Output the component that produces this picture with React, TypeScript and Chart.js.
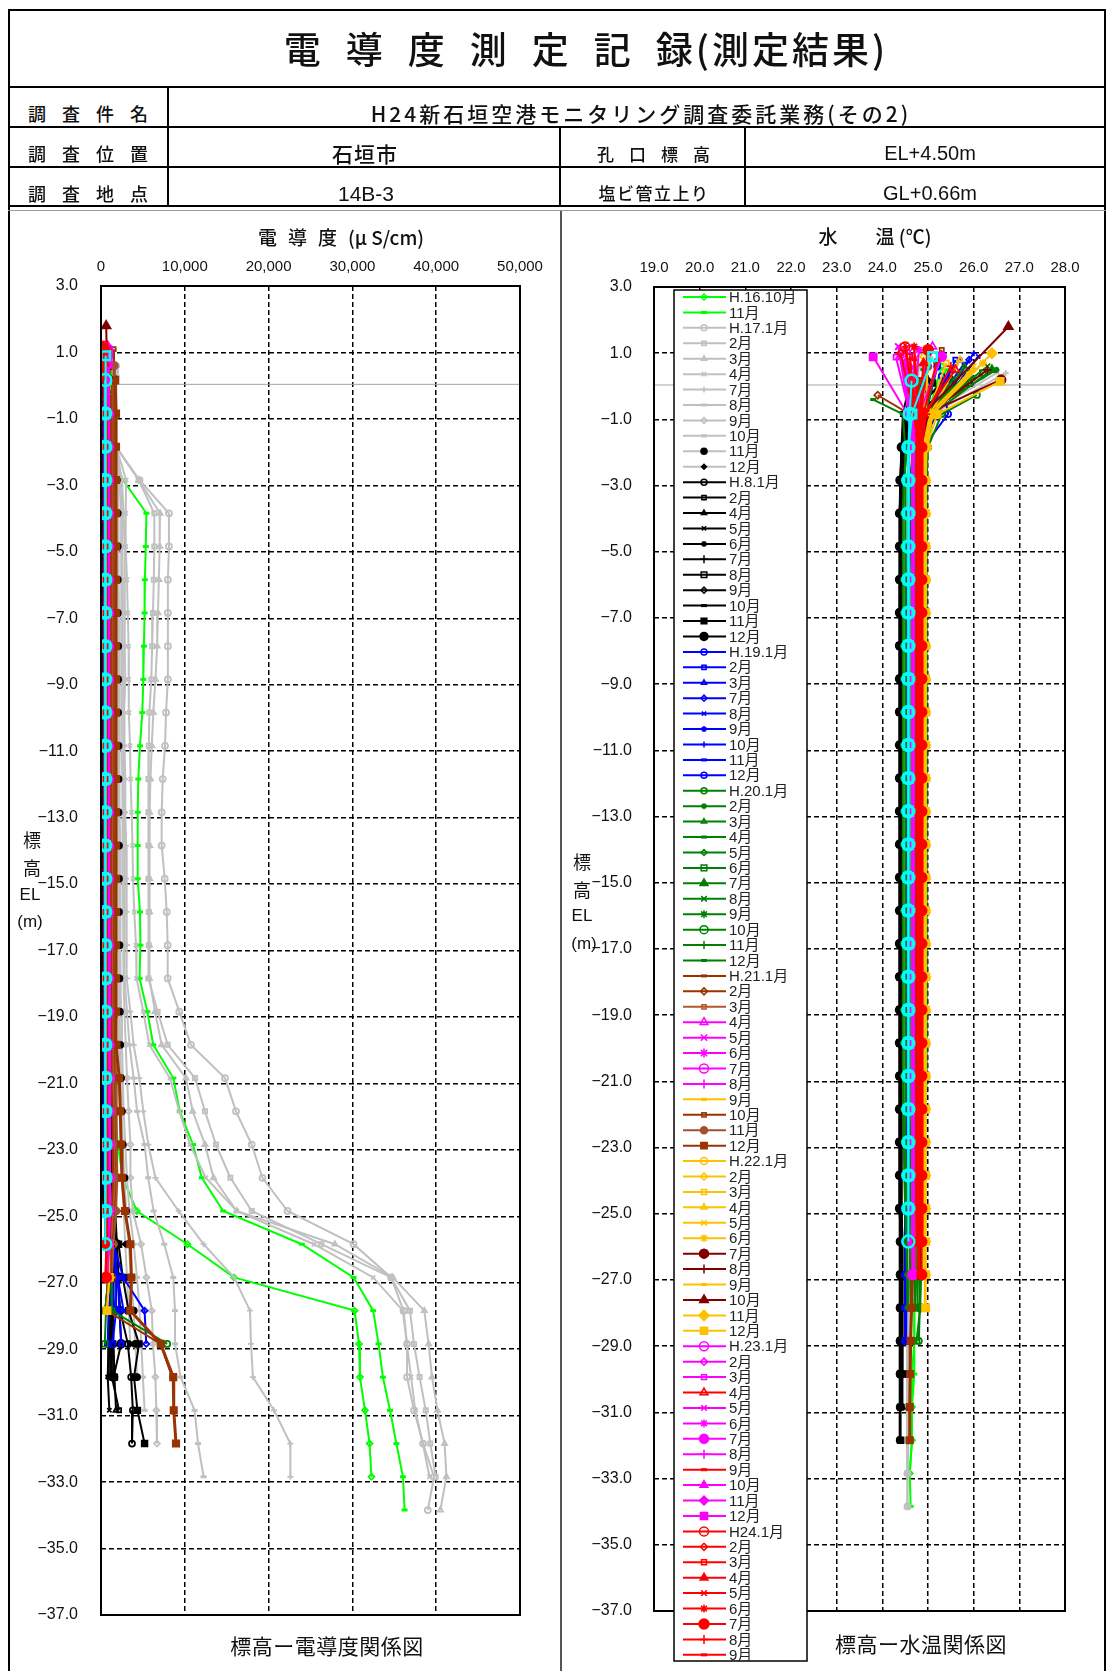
import React, { useEffect, useRef } from "react";
import { Chart, registerables } from "chart.js";
import { drawPoint } from "chart.js/helpers";

Chart.register(...registerables);

// ---------- axes / levels ----------
const LEVELS = [-0.84,-1.84,-2.84,-3.84,-4.84,-5.84,-6.84,-7.84,-8.84,-9.84,-10.84,-11.84,-12.84,-13.84,-14.84,-15.84,-16.84,-17.84,-18.84,-19.84,-20.84,-21.84,-22.84,-23.84,-24.84,-25.84,-26.84,-27.84,-28.84,-29.84,-30.84,-31.84,-32.84,-33.84];
const EL_TICKS = [3,1,-1,-3,-5,-7,-9,-11,-13,-15,-17,-19,-21,-23,-25,-27,-29,-31,-33,-35,-37];
const EC_TICKS = [0,10000,20000,30000,40000,50000];
const T_TICKS = [19,20,21,22,23,24,25,26,27,28];
const WATER_LINE_EL = 0.04;

// ---------- series names ----------
const LABELS = [
  "H.16.10月","11月",
  "H.17.1月","2月","3月","4月","7月","8月","9月","10月","11月","12月",
  "H.8.1月","2月","4月","5月","6月","7月","8月","9月","10月","11月","12月",
  "H.19.1月","2月","3月","7月","8月","9月","10月","11月","12月",
  "H.20.1月","2月","3月","4月","5月","6月","7月","8月","9月","10月","11月","12月",
  "H.21.1月","2月","3月","4月","5月","6月","7月","8月","9月","10月","11月","12月",
  "H.22.1月","2月","3月","4月","5月","6月","7月","8月","9月","10月","11月","12月",
  "H.23.1月","2月","3月","4月","5月","6月","7月","8月","9月","10月","11月","12月",
  "H24.1月","2月","3月","4月","5月","6月","7月","8月","9月",
  "H24.10月","11月",
];

// first (water-level) reading elevation of each series
const HEAD_EL = [
  0.6,0.5,
  0.6,0.5,0.6,0.5,0.4,0.4,0.3,0.3,0.2,0.2,
  0.2,0.1,0.2,0.1,0.0,0.2,0.1,0.0,0.2,0.1,0.0,
  0.3,0.8,0.5,0.8,0.9,0.8,1.0,0.7,0.6,
  -0.26,0.5,0.6,-0.4,0.3,0.4,0.5,0.6,0.4,0.3,0.7,0.5,
  0.16,-0.27,0.2,1.2,1.2,1.1,1.0,0.9,0.5,1.1,0.6,0.16,
  0.8,0.9,0.7,0.8,0.6,0.7,0.2,0.5,0.4,1.8,1.0,0.15,
  1.1,0.9,0.88,0.5,1.2,1.1,0.9,1.0,0.8,0.6,0.7,0.89,
  1.2,1.0,0.9,0.7,1.25,1.2,1.1,0.6,0.8,
  0.17,0.9,
];

// ---------- conductivity (µS/cm): head value, then LEVELS ----------
const EC_H16 = [
  [1200, 1200,1200,1250,1300,1300,1300,1350,1350,1400,1400, 1400,1400,1450,1450,1450,1500,1500,1500,1500,1550, 1600,1700,2000,2600,4270,10320,15870,30260,30790,30900, 31500,32050,32270],
  [1000, 1000,1100,2630,5420,5340,5240,5200,5120,5050,4930, 4650,4450,4380,4380,4380,4650,4700,4600,5530,6240, 8630,9400,10970,12030,14580,23960,30140,32480,33120,33640, 34490,35250,36030,36230],
];
const EC_H17 = [
  [1800, 1800,1800,4600,8110,8110,7980,7980,7980,7980,7760, 7640,7360,7240,7240,7600,7840,7960,7960,9340,10740, 14800,16110,17980,19270,22260,30140,34610,36100,36520,36520, 37350,38430,39740,39000],
  [1800, 1800,1800,4500,6360,6360,6300,6200,6100,6000,5770, 5700,5650,5650,5650,5650,5700,5700,5650,6760,7960, 11220,12410,13720,15440,17990,26300,34610,36870,37350,38020, 38750,39300,39940],
  [1800, 1800,1800,4500,7040,7000,6900,6800,6700,6500,6240, 6060,5900,5800,5800,5800,5800,5770,5770,6440,7240, 10140,10940,12410,13430,16190,27910,34830,38580,39090,39500, 40150,41000,41220,40500],
  [1800, 1800,1800,3000,2950,2950,3100,3200,3290,3300,3340, 3460,3530,3650,3760,3820,3970,4180,4240,5050,5770, 8230,9340,10620,12500,16190,25420,32480,36020,36500,37000, 37500,38400,39200],
  [1800, 1800,1800,2500,2700,2800,2800,2850,2850,2900,2750, 2800,2900,2900,3000,3000,3050,3100,3100,3500,3900, 4580,5050,5650,6490,9260,12240,15870,17780,17900,18130, 20640,22590,22600],
  [1800, 1800,1800,2300,2500,2500,2550,2600,2600,2650,2650, 2700,2700,2750,2750,2800,2800,2850,2850,3100,3400, 3900,4300,5200,5630,6280,7550,8620,8830,8830,9500, 11170,11580,12240],
  [1800, 1800,1800,2200,2400,2400,2400,2450,2450,2500,2500, 2500,2550,2550,2600,2600,2650,2650,2700,2800,2950, 3100,3300,3510,3510,3800,4780,5420,6060,6200,6490, 6600,6680],
  [1700, 1700,1700,2000,2100,2100,2100,2150,2150,2200,2200, 2200,2250,2250,2300,2300,2300,2350,2350,2400,2500, 2600,2700,2900,3100,3400,3900,4300,4600,4800,5000, 5200],
  [1700, 1700,1700,1900,2000,2000,2000,2000,2050,2050,2050, 2100,2100,2100,2150,2150,2150,2200,2200,2250,2300, 2400,2500,2600,2800,3000,3300,3600,3900,4100,4300],
  [1600, 1600,1600,1800,1900,1900,1900,1900,1950,1950,1950, 2000,2000,2000,2000,2050,2050,2050,2100,2100,2150, 2200,2300,2400,2500,2700,2900,3100,3300,3500],
];
const EC_H18 = [
  [150, 150,150,160,160,160,170,170,170,170,180, 180,180,180,190,190,190,200,400,800,1100, 1150,1200,1300,1500,1700,1900,2000,2300,3200,3600, 3800,3700],
  [120, 120,120,130,130,130,140,140,140,150,150, 150,160,160,160,170,170,170,180,180,190, 200,210,230,260,500,1500,1300,1200,1000,1300, 2150],
  [130, 130,130,140,140,140,150,150,150,160,160, 160,170,170,170,180,180,180,190,190,200, 200,210,220,250,400,1700,1500,1400,1500,1600, 1800],
  [110, 110,110,120,120,120,130,130,130,140,140, 140,150,150,150,160,160,160,170,170,180, 180,190,200,220,350,1600,1300,1000,900,800, 1000],
  [100, 100,100,110,110,110,120,120,120,130,130, 130,140,140,140,150,150,150,160,160,170, 170,180,190,210,330,1400,1200,1000,900,900],
  [140, 140,140,150,150,150,160,160,160,170,170, 170,180,180,180,190,190,190,200,200,210, 210,220,230,260,450,1800,1400,1300,1200,1200],
  [160, 160,160,170,170,170,180,180,180,190,190, 190,200,200,200,210,210,210,220,220,230, 230,240,260,300,600,1700,1500,1400,1400,1600],
  [120, 120,120,130,130,130,140,140,140,150,150, 150,160,160,160,170,170,170,180,180,190, 190,200,210,240,400,1500,1300,1200,1100,1100],
  [130, 130,130,140,140,140,150,150,150,160,160, 160,170,170,170,180,180,180,190,190,200, 200,210,220,250,420,1600,1400,1300,1300,1300],
  [170, 170,170,180,180,180,190,190,190,200,200, 200,210,210,210,220,220,220,230,230,240, 240,250,270,310,700,2100,2600,3290,4540,3940, 4350,5200],
  [150, 150,150,160,160,160,170,170,170,180,180, 180,190,190,190,200,200,200,300,600,1000, 1100,1150,1200,1300,1400,1900,2100,2200,2400,1500],
];
const EC_H19 = [
  [400, 400,400,420,420,420,430,430,430,440,440, 440,450,450,450,460,460,460,470,470,480, 490,500,520,560,700,1200,1800,1800,1370],
  [450, 450,450,460,460,460,470,470,470,480,480, 480,490,490,490,500,500,500,510,510,520, 530,540,560,600,800,1500,2000,2200,2440],
  [380, 380,380,390,390,390,400,400,400,410,410, 410,420,420,420,430,430,430,440,440,450, 460,470,490,530,650,1100,1400,1600],
  [500, 500,500,510,510,510,520,520,520,530,530, 530,540,540,540,550,550,550,560,560,570, 580,590,610,650,900,1500,2650,5200,5400],
  [420, 420,420,430,430,430,440,440,440,450,450, 450,460,460,460,470,470,470,480,480,490, 500,510,530,570,750,1300,2000,2700],
  [360, 360,360,370,370,370,380,380,380,390,390, 390,400,400,400,410,410,410,420,420,430, 440,450,470,510,620,1000,1300,1400],
  [340, 340,340,350,350,350,360,360,360,370,370, 370,380,380,380,390,390,390,400,400,410, 420,430,450,490,600,900,1100,1200],
  [320, 320,320,330,330,330,340,340,340,350,350, 350,360,360,360,370,370,370,380,380,390, 400,410,430,470,580,800,900,1000],
  [300, 300,300,310,310,310,320,320,320,330,330, 330,340,340,340,350,350,350,360,360,370, 380,390,410,450,560,700,800,900,800],
];
const EC_H20 = [
  [900, 700,650,620,600,600,600,600,600,600,600, 600,600,600,600,600,600,610,620,640,660, 680,700,750,800,900,1100,1200,1300,7900],
  [600, 550,520,500,500,500,500,500,500,500,500, 500,500,500,500,500,510,520,530,540,560, 580,600,640,700,800,900,1000,500],
  [650, 600,580,560,560,560,560,560,560,560,560, 560,560,560,560,560,570,580,590,600,620, 640,660,700,760,850,950,1000,600],
  [500, 500,480,460,460,460,460,460,460,460,460, 460,460,460,460,460,470,480,490,500,520, 540,560,600,660,750,850,900,500],
  [550, 520,500,480,480,480,480,480,480,480,480, 480,480,480,480,480,490,500,510,520,540, 560,580,620,680,780,880,950,550],
  [600, 560,540,520,520,520,520,520,520,520,520, 520,520,520,520,520,530,540,550,560,580, 600,620,660,720,820,920,980,600,450],
  [620, 580,560,540,540,540,540,540,540,540,540, 540,540,540,540,540,550,560,570,580,600, 620,640,680,740,840,940,1000,620],
  [580, 540,520,500,500,500,500,500,500,500,500, 500,500,500,500,500,510,520,530,540,560, 580,600,640,700,800,900,960,560],
  [560, 530,510,490,490,490,490,490,490,490,490, 490,490,490,490,490,500,510,520,530,550, 570,590,630,690,790,890,940,540],
  [640, 600,580,560,560,560,560,560,560,560,560, 560,560,560,560,560,570,580,590,600,620, 640,660,700,760,860,960,1020,640],
  [520, 500,480,460,460,460,460,460,460,460,460, 460,460,460,460,460,470,480,490,500,520, 540,560,600,660,760,860,900,520],
  [500, 480,460,440,440,440,440,440,440,440,440, 440,440,440,440,440,450,460,470,480,500, 520,540,580,640,740,840,880,500],
];
const EC_H21 = [
  [1300, 1300,1300,1300,1300,1300,1300,1300,1300,1300,1300, 1300,1300,1300,1300,1300,1300,1300,1350,1350,1400, 1450,1500,1550,1600,1400,1000,800,700,7100,8500],
  [1100, 1150,1150,1150,1150,1150,1150,1150,1150,1150,1150, 1150,1150,1150,1150,1150,1150,1150,1200,1200,1250, 1300,1350,1400,1450,1300,1100,1000],
  [1400, 1400,1400,1400,1400,1400,1400,1400,1400,1400,1400, 1400,1400,1400,1400,1400,1400,1400,1450,1450,1500, 1550,1600,1650,1700,1500,1200,1100],
  [800, 850,850,850,850,850,850,850,850,850,850, 850,850,850,850,850,850,850,860,870,880, 890,900,920,950,900,800,700],
  [600, 820,820,820,820,820,820,820,820,820,820, 820,820,820,820,820,820,820,830,840,850, 860,870,890,920,880,780,680],
  [700, 870,870,870,870,870,870,870,870,870,870, 870,870,870,870,870,870,870,880,890,900, 910,920,940,970,920,820,720],
  [750, 900,900,900,900,900,900,900,900,900,900, 900,900,900,900,900,900,900,910,920,930, 940,950,970,1000,950,850,650],
  [800, 880,880,880,880,880,880,880,880,880,880, 880,880,880,880,880,880,880,890,900,910, 920,930,950,980,930,830,730],
  [650, 700,700,700,700,700,700,700,700,700,700, 700,700,700,700,700,700,700,710,720,730, 740,750,770,800,760,700,650],
  [1500, 1550,1550,1550,1550,1550,1550,1550,1550,1550,1550, 1550,1550,1550,1550,1550,1550,1550,1600,1600,1650, 1700,1750,1800,1850,1700,1400,1200],
  [1600, 1650,1650,1650,1650,1650,1650,1650,1650,1650,1650, 1650,1650,1650,1650,1650,1650,1650,1700,1700,1750, 1800,1850,1900,1950,1800,1500,1300],
  [1700, 1790,1790,1790,1790,1790,1790,1790,1790,1790,1790, 1790,1790,1790,1790,1790,1790,1790,1790,1800,1850, 2180,2300,2400,2500,2860,3500,3630,3500,7130,8620, 8680,8950],
];
const EC_H22 = [
  [700, 700,680,660,650,650,650,650,650,650,650, 650,650,650,650,650,660,670,680,690,700, 720,740,780,820,880,900,950],
  [720, 720,700,680,670,670,670,670,670,670,670, 670,670,670,670,670,680,690,700,710,720, 740,760,800,840,900,920,960],
  [740, 740,720,700,690,690,690,690,690,690,690, 690,690,690,690,690,700,710,720,730,740, 760,780,820,860,920,940,980,720],
  [680, 680,660,640,630,630,630,630,630,630,630, 630,630,630,630,630,640,650,660,670,680, 700,720,760,800,860,880,920],
  [660, 660,640,620,610,610,610,610,610,610,610, 610,610,610,610,610,620,630,640,650,660, 680,700,740,780,840,860,900],
  [700, 700,680,660,650,650,650,650,650,650,650, 650,650,650,650,650,660,670,680,690,700, 720,740,780,820,880,900,940],
  [800, 800,790,780,780,780,780,780,780,780,780, 780,780,780,780,780,790,800,810,820,830, 850,870,900,940,1000,1050,1100],
  [780, 780,770,760,760,760,760,760,760,760,760, 760,760,760,760,760,770,780,790,800,810, 830,850,880,920,980,1030,1080],
  [690, 690,670,650,640,640,640,640,640,640,640, 640,640,640,640,640,650,660,670,680,690, 710,730,770,810,870,890,930],
  [620, 820,810,800,800,800,800,800,800,800,800, 800,800,800,800,800,810,820,830,840,850, 870,890,920,960,1020,1070,1120],
  [730, 730,710,690,680,680,680,680,680,680,680, 680,680,680,680,680,690,700,710,720,730, 750,770,810,850,910,930,970],
  [760, 760,740,720,710,710,710,710,710,710,710, 710,710,710,710,710,720,730,740,750,760, 780,800,840,880,940,960,1000,720],
];
const EC_H23 = [
  [850, 900,900,900,900,900,900,900,900,900,900, 900,900,900,900,900,910,920,930,940,950, 960,970,990,1020,980,900,640],
  [880, 930,930,930,930,930,930,930,930,930,930, 930,930,930,930,930,940,950,960,970,980, 990,1000,1020,1050,1010,930,700],
  [870, 920,920,920,920,920,920,920,920,920,920, 920,920,920,920,920,930,940,950,960,970, 980,990,1010,1040,1000,920,680],
  [600, 620,620,620,620,620,620,620,620,620,620, 620,620,620,620,620,630,640,650,660,670, 680,690,710,740,700,650,560],
  [500, 950,950,950,950,950,950,950,950,950,950, 950,950,950,950,950,960,970,980,990,1000, 1010,1020,1040,1070,1030,950,720],
  [700, 960,960,960,960,960,960,960,960,960,960, 960,960,960,960,960,970,980,990,1000,1010, 1020,1030,1050,1080,1040,960,740],
  [820, 890,890,890,890,890,890,890,890,890,890, 890,890,890,890,890,900,910,920,930,940, 950,960,980,1010,970,890,640],
  [860, 910,910,910,910,910,910,910,910,910,910, 910,910,910,910,910,920,930,940,950,960, 970,980,1000,1030,990,910,660],
  [560, 580,580,580,580,580,580,580,580,580,580, 580,580,580,580,580,590,600,610,620,630, 640,650,670,700,660,610,520],
  [900, 940,940,940,940,940,940,940,940,940,940, 940,940,940,940,940,950,960,970,980,990, 1000,1010,1030,1060,1020,940,680],
  [880, 920,920,920,920,920,920,920,920,920,920, 920,920,920,920,920,930,940,950,960,970, 980,990,1010,1040,1000,920,660],
  [840, 900,900,900,900,900,900,900,900,900,900, 900,900,900,900,900,910,920,930,940,950, 960,970,990,1020,980,900,650],
];
const EC_H24 = [
  [300, 480,480,480,480,480,480,480,480,480,480, 480,480,480,480,480,490,500,510,520,530, 540,550,570,600,580,520],
  [200, 520,520,520,520,520,520,520,520,520,520, 520,520,520,520,520,530,540,550,560,570, 580,590,610,640,620,560],
  [350, 560,560,560,560,560,560,560,560,560,560, 560,560,560,560,560,570,580,590,600,610, 620,630,650,680,660,600],
  [450, 600,600,600,600,600,600,600,600,600,600, 600,600,600,600,600,610,620,630,640,650, 660,670,690,720,700,640],
  [100, 440,440,440,440,440,440,440,440,440,440, 440,440,440,440,440,450,460,470,480,490, 500,510,530,560,540,480],
  [250, 460,460,460,460,460,460,460,460,460,460, 460,460,460,460,460,470,480,490,500,510, 520,530,550,580,560,500],
  [400, 640,640,640,640,640,640,640,640,640,640, 640,640,640,640,640,650,660,670,680,690, 700,710,730,760,740,680,600],
  [500, 680,680,680,680,680,680,680,680,680,680, 680,680,680,680,680,690,700,710,720,730, 740,750,770,800,780,720],
  [420, 420,420,420,420,420,420,420,420,420,420, 420,420,420,420,420,430,440,450,460,470, 480,490,510,540,520,460],
];
const EC_CYAN = [
  [520, 500,500,500,500,500,500,500,500,500,500, 500,500,500,500,500,500,500,510,510,510, 520,520,530,540,530,520],
  [560, 540,540,540,540,540,540,540,540,540,540, 540,540,540,540,540,540,540,550,550,550, 560,560,570,580,570],
];

// ---------- water temperature (°C): head value, then LEVELS ----------
const T_H16 = [
  [25.3, 25.0,24.95,24.9,24.9,24.9,24.9,24.9,24.9,24.9,24.9, 24.9,24.9,24.9,24.9,24.9,24.9,24.85,24.85,24.85,24.85, 24.85,24.8,24.8,24.8,24.8,24.75,24.75,24.7,24.7,24.65, 24.65,24.65,24.6],
  [25.4, 25.0,24.95,24.95,24.9,24.9,24.9,24.9,24.9,24.9,24.9, 24.9,24.9,24.9,24.9,24.9,24.9,24.9,24.85,24.85,24.85, 24.85,24.8,24.8,24.8,24.8,24.75,24.75,24.7,24.7,24.7, 24.65,24.65,24.6,24.62],
];
const T_H17 = [
  [24.9, 24.8,24.75,24.75,24.72,24.72,24.72,24.7,24.7,24.7,24.7, 24.7,24.7,24.7,24.7,24.7,24.7,24.68,24.68,24.68,24.68, 24.66,24.66,24.65,24.65,24.64,24.62,24.6,24.6,24.6,24.58, 24.56,24.55,24.55,24.55],
  [24.6, 24.7,24.7,24.7,24.7,24.7,24.7,24.7,24.7,24.7,24.7, 24.7,24.7,24.7,24.7,24.7,24.68,24.68,24.68,24.66,24.66, 24.65,24.65,24.64,24.62,24.6,24.6,24.6,24.58,24.56,24.55, 24.55,24.55,24.55],
  [24.8, 24.75,24.72,24.72,24.72,24.72,24.7,24.7,24.7,24.7,24.7, 24.7,24.7,24.7,24.7,24.7,24.7,24.7,24.68,24.68,24.66, 24.66,24.65,24.65,24.64,24.62,24.6,24.6,24.6,24.58,24.56, 24.55,24.55,24.55,24.55],
  [25.2, 24.9,24.8,24.75,24.75,24.72,24.72,24.72,24.7,24.7,24.7, 24.7,24.7,24.7,24.7,24.7,24.7,24.68,24.68,24.68,24.66, 24.66,24.65,24.65,24.64,24.62,24.6,24.6,24.6,24.58,24.56, 24.55,24.55,24.55],
  [26.7, 25.1,24.85,24.8,24.78,24.76,24.75,24.75,24.74,24.74,24.73, 24.73,24.72,24.72,24.72,24.71,24.7,24.7,24.7,24.69,24.68, 24.67,24.66,24.65,24.64,24.63,24.62,24.6,24.6,24.58,24.57, 24.56,24.55,24.55],
  [26.5, 25.0,24.8,24.78,24.76,24.75,24.75,24.74,24.74,24.73,24.73, 24.72,24.72,24.72,24.71,24.7,24.7,24.7,24.69,24.68,24.67, 24.66,24.65,24.64,24.63,24.62,24.6,24.6,24.58,24.57,24.56, 24.55,24.55,24.55],
  [26.2, 24.95,24.8,24.76,24.75,24.74,24.74,24.73,24.73,24.72,24.72, 24.72,24.71,24.7,24.7,24.7,24.69,24.68,24.67,24.66,24.65, 24.64,24.63,24.62,24.6,24.6,24.58,24.57,24.56,24.55,24.55, 24.55,24.55],
  [25.8, 24.9,24.78,24.75,24.74,24.73,24.73,24.72,24.72,24.72,24.71, 24.7,24.7,24.7,24.69,24.68,24.67,24.66,24.65,24.64,24.63, 24.62,24.6,24.6,24.58,24.57,24.56,24.55,24.55,24.55,24.55, 24.55],
  [25.5, 24.85,24.76,24.74,24.73,24.72,24.72,24.72,24.71,24.7,24.7, 24.7,24.69,24.68,24.67,24.66,24.65,24.64,24.63,24.62,24.6, 24.6,24.58,24.57,24.56,24.55,24.55,24.55,24.55,24.55,24.55],
  [25.0, 24.8,24.75,24.73,24.72,24.72,24.71,24.7,24.7,24.7,24.69, 24.68,24.67,24.66,24.65,24.64,24.63,24.62,24.6,24.6,24.58, 24.57,24.56,24.55,24.55,24.55,24.55,24.55,24.55,24.55],
];
const T_H18 = [
  [24.7, 24.5,24.42,24.4,24.4,24.4,24.38,24.38,24.38,24.38,24.38, 24.38,24.38,24.38,24.38,24.38,24.38,24.38,24.38,24.38,24.38, 24.38,24.38,24.38,24.38,24.38,24.38,24.38,24.38,24.38,24.38, 24.38,24.38],
  [24.6, 24.45,24.42,24.4,24.4,24.4,24.4,24.4,24.4,24.4,24.4, 24.4,24.4,24.4,24.4,24.4,24.4,24.4,24.4,24.4,24.4, 24.4,24.4,24.4,24.4,24.4,24.42,24.42,24.42,24.42,24.42, 24.42],
  [25.0, 24.55,24.45,24.42,24.42,24.42,24.42,24.42,24.42,24.42,24.42, 24.42,24.42,24.42,24.42,24.42,24.42,24.42,24.42,24.42,24.42, 24.42,24.42,24.42,24.42,24.42,24.44,24.44,24.44,24.44,24.44, 24.44],
  [25.3, 24.6,24.45,24.4,24.4,24.4,24.4,24.4,24.4,24.4,24.4, 24.4,24.4,24.4,24.4,24.4,24.4,24.4,24.4,24.4,24.4, 24.4,24.4,24.4,24.4,24.4,24.42,24.42,24.42,24.42,24.42, 24.42],
  [25.6, 24.65,24.45,24.4,24.38,24.38,24.38,24.38,24.38,24.38,24.38, 24.38,24.38,24.38,24.38,24.38,24.38,24.38,24.38,24.38,24.38, 24.38,24.38,24.38,24.38,24.38,24.4,24.4,24.4,24.4,24.4],
  [25.8, 24.7,24.48,24.42,24.4,24.4,24.4,24.4,24.4,24.4,24.4, 24.4,24.4,24.4,24.4,24.4,24.4,24.4,24.4,24.4,24.4, 24.4,24.4,24.4,24.4,24.4,24.42,24.42,24.42,24.42,24.42],
  [25.9, 24.7,24.5,24.44,24.42,24.42,24.42,24.42,24.42,24.42,24.42, 24.42,24.42,24.42,24.42,24.42,24.42,24.42,24.42,24.42,24.42, 24.42,24.42,24.42,24.42,24.42,24.44,24.44,24.44,24.44,24.44],
  [25.7, 24.65,24.47,24.41,24.4,24.4,24.4,24.4,24.4,24.4,24.4, 24.4,24.4,24.4,24.4,24.4,24.4,24.4,24.4,24.4,24.4, 24.4,24.4,24.4,24.4,24.4,24.41,24.41,24.41,24.41,24.41],
  [25.4, 24.6,24.45,24.4,24.39,24.39,24.39,24.39,24.39,24.39,24.39, 24.39,24.39,24.39,24.39,24.39,24.39,24.39,24.39,24.39,24.39, 24.39,24.39,24.39,24.39,24.39,24.4,24.4,24.4,24.4,24.4],
  [25.1, 24.55,24.44,24.4,24.38,24.38,24.38,24.38,24.38,24.38,24.38, 24.38,24.38,24.38,24.38,24.38,24.38,24.38,24.38,24.38,24.38, 24.38,24.38,24.38,24.38,24.38,24.4,24.4,24.4,24.4,24.4, 24.4,24.4],
  [24.8, 24.5,24.42,24.39,24.38,24.38,24.38,24.38,24.38,24.38,24.38, 24.38,24.38,24.38,24.38,24.38,24.38,24.38,24.38,24.38,24.38, 24.38,24.38,24.38,24.38,24.38,24.4,24.4,24.4,24.4,24.4],
];
const T_H19 = [
  [25.3, 25.44,24.9,24.7,24.6,24.6,24.58,24.56,24.55,24.55,24.55, 24.55,24.55,24.55,24.55,24.55,24.55,24.55,24.55,24.55,24.55, 24.55,24.52,24.52,24.52,24.5,24.5,24.5,24.5,24.5],
  [25.6, 25.1,24.75,24.62,24.6,24.58,24.57,24.56,24.55,24.55,24.55, 24.55,24.55,24.55,24.55,24.55,24.55,24.55,24.55,24.55,24.55, 24.55,24.53,24.53,24.52,24.52,24.5,24.5,24.5,24.5],
  [25.5, 25.0,24.72,24.6,24.58,24.57,24.56,24.55,24.55,24.55,24.55, 24.55,24.55,24.55,24.55,24.55,24.55,24.55,24.55,24.55,24.55, 24.55,24.53,24.52,24.52,24.5,24.5,24.5,24.5],
  [25.9, 25.2,24.8,24.65,24.6,24.6,24.58,24.57,24.57,24.57,24.57, 24.57,24.57,24.57,24.57,24.57,24.57,24.57,24.57,24.57,24.57, 24.57,24.55,24.55,24.54,24.53,24.52,24.52,24.52,24.52],
  [26.1, 25.15,24.78,24.63,24.6,24.58,24.57,24.56,24.56,24.56,24.56, 24.56,24.56,24.56,24.56,24.56,24.56,24.56,24.56,24.56,24.56, 24.56,24.54,24.54,24.53,24.52,24.51,24.51,24.51],
  [25.7, 25.05,24.74,24.61,24.58,24.57,24.56,24.55,24.55,24.55,24.55, 24.55,24.55,24.55,24.55,24.55,24.55,24.55,24.55,24.55,24.55, 24.55,24.53,24.53,24.52,24.51,24.5,24.5,24.5],
  [26.0, 25.1,24.76,24.62,24.59,24.58,24.57,24.56,24.56,24.56,24.56, 24.56,24.56,24.56,24.56,24.56,24.56,24.56,24.56,24.56,24.56, 24.56,24.54,24.54,24.53,24.52,24.51,24.51,24.51],
  [25.8, 25.0,24.73,24.6,24.58,24.57,24.56,24.55,24.55,24.55,24.55, 24.55,24.55,24.55,24.55,24.55,24.55,24.55,24.55,24.55,24.55, 24.55,24.53,24.53,24.52,24.51,24.5,24.5,24.5],
  [25.2, 24.95,24.7,24.6,24.57,24.56,24.55,24.55,24.55,24.55,24.55, 24.55,24.55,24.55,24.55,24.55,24.55,24.55,24.55,24.55,24.55, 24.55,24.53,24.53,24.52,24.51,24.5,24.5,24.5,24.5],
];
const T_H20 = [
  [26.07, 25.3,25.0,24.96,24.95,24.95,24.95,24.95,24.95,24.95,24.95, 24.95,24.95,24.95,24.95,24.95,24.95,24.95,24.95,24.95,24.95, 24.95,24.93,24.92,24.9,24.88,24.86,24.84,24.82,24.8],
  [26.5, 24.9,24.55,24.47,24.45,24.45,24.45,24.45,24.45,24.45,24.45, 24.45,24.45,24.45,24.45,24.45,24.45,24.45,24.45,24.45,24.45, 24.45,24.46,24.47,24.48,24.5,24.52,24.54,24.55],
  [25.8, 25.1,24.99,24.97,24.97,24.97,24.97,24.97,24.97,24.97,24.97, 24.97,24.97,24.97,24.97,24.97,24.97,24.97,24.97,24.97,24.97, 24.97,24.95,24.93,24.9,24.88,24.86,24.84,24.82],
  [23.8, 24.45,24.5,24.5,24.5,24.5,24.5,24.5,24.5,24.5,24.5, 24.5,24.5,24.5,24.5,24.5,24.5,24.5,24.5,24.5,24.5, 24.5,24.5,24.51,24.52,24.53,24.54,24.55,24.56],
  [25.9, 24.95,24.66,24.62,24.6,24.6,24.6,24.6,24.6,24.6,24.6, 24.6,24.6,24.6,24.6,24.6,24.6,24.6,24.6,24.6,24.6, 24.6,24.6,24.61,24.62,24.63,24.64,24.65,24.66],
  [26.2, 25.0,24.76,24.72,24.7,24.7,24.7,24.7,24.7,24.7,24.7, 24.7,24.7,24.7,24.7,24.7,24.7,24.7,24.7,24.7,24.7, 24.7,24.72,24.74,24.76,24.78,24.8,24.82,24.83,24.75],
  [26.4, 25.1,24.94,24.9,24.9,24.9,24.9,24.9,24.9,24.9,24.9, 24.9,24.9,24.9,24.9,24.9,24.9,24.9,24.9,24.9,24.9, 24.9,24.89,24.88,24.87,24.86,24.85,24.84,24.83],
  [26.3, 24.95,24.6,24.56,24.55,24.55,24.55,24.55,24.55,24.55,24.55, 24.55,24.55,24.55,24.55,24.55,24.55,24.55,24.55,24.55,24.55, 24.55,24.56,24.57,24.58,24.59,24.6,24.61,24.62],
  [25.9, 24.9,24.7,24.66,24.65,24.65,24.65,24.65,24.65,24.65,24.65, 24.65,24.65,24.65,24.65,24.65,24.65,24.65,24.65,24.65,24.65, 24.65,24.66,24.67,24.68,24.69,24.7,24.71,24.72],
  [25.6, 24.95,24.79,24.76,24.75,24.75,24.75,24.75,24.75,24.75,24.75, 24.75,24.75,24.75,24.75,24.75,24.75,24.75,24.75,24.75,24.75, 24.75,24.76,24.77,24.78,24.79,24.8,24.81,24.82],
  [25.2, 24.95,24.88,24.86,24.85,24.85,24.85,24.85,24.85,24.85,24.85, 24.85,24.85,24.85,24.85,24.85,24.85,24.85,24.85,24.85,24.85, 24.85,24.85,24.85,24.84,24.84,24.83,24.83,24.82],
  [24.9, 24.8,24.72,24.7,24.7,24.7,24.7,24.7,24.7,24.7,24.7, 24.7,24.7,24.7,24.7,24.7,24.7,24.7,24.7,24.7,24.7, 24.7,24.71,24.72,24.73,24.74,24.75,24.76,24.77],
];
const T_H21 = [
  [24.9, 24.8,24.76,24.75,24.75,24.75,24.75,24.75,24.75,24.75,24.75, 24.75,24.75,24.75,24.75,24.75,24.75,24.75,24.74,24.73,24.72, 24.71,24.7,24.69,24.68,24.67,24.66,24.65,24.63,24.62,24.6],
  [23.9, 24.6,24.78,24.8,24.8,24.8,24.8,24.8,24.8,24.8,24.8, 24.8,24.8,24.8,24.8,24.8,24.8,24.8,24.8,24.8,24.8, 24.8,24.79,24.78,24.77,24.76,24.75,24.74],
  [24.6, 24.75,24.78,24.78,24.78,24.78,24.78,24.78,24.78,24.78,24.78, 24.78,24.78,24.78,24.78,24.78,24.78,24.78,24.78,24.78,24.78, 24.78,24.77,24.76,24.75,24.74,24.73,24.72],
  [25.1, 24.75,24.67,24.66,24.65,24.65,24.65,24.65,24.65,24.65,24.65, 24.65,24.65,24.65,24.65,24.65,24.65,24.65,24.65,24.65,24.65, 24.65,24.65,24.65,24.65,24.65,24.65,24.65],
  [24.35, 24.6,24.65,24.66,24.66,24.66,24.66,24.66,24.66,24.66,24.66, 24.66,24.66,24.66,24.66,24.66,24.66,24.66,24.66,24.66,24.66, 24.66,24.66,24.66,24.66,24.66,24.66,24.66],
  [24.5, 24.65,24.67,24.67,24.67,24.67,24.67,24.67,24.67,24.67,24.67, 24.67,24.67,24.67,24.67,24.67,24.67,24.67,24.67,24.67,24.67, 24.67,24.67,24.67,24.67,24.67,24.67,24.67],
  [24.7, 24.68,24.66,24.66,24.66,24.66,24.66,24.66,24.66,24.66,24.66, 24.66,24.66,24.66,24.66,24.66,24.66,24.66,24.66,24.66,24.66, 24.66,24.66,24.66,24.66,24.66,24.66,24.66],
  [25.3, 24.8,24.68,24.66,24.66,24.66,24.66,24.66,24.66,24.66,24.66, 24.66,24.66,24.66,24.66,24.66,24.66,24.66,24.66,24.66,24.66, 24.66,24.66,24.66,24.66,24.66,24.66,24.66],
  [26.0, 25.0,24.92,24.9,24.9,24.9,24.9,24.9,24.9,24.9,24.9, 24.9,24.9,24.9,24.9,24.9,24.9,24.9,24.9,24.9,24.9, 24.9,24.9,24.9,24.9,24.9,24.9,24.9],
  [25.3, 24.9,24.82,24.8,24.8,24.8,24.8,24.8,24.8,24.8,24.8, 24.8,24.8,24.8,24.8,24.8,24.8,24.8,24.8,24.8,24.8, 24.8,24.79,24.78,24.77,24.76,24.75,24.74],
  [25.0, 24.85,24.79,24.78,24.78,24.78,24.78,24.78,24.78,24.78,24.78, 24.78,24.78,24.78,24.78,24.78,24.78,24.78,24.78,24.78,24.78, 24.78,24.77,24.76,24.75,24.74,24.73,24.72],
  [24.8, 24.78,24.76,24.75,24.75,24.75,24.75,24.75,24.75,24.75,24.75, 24.75,24.75,24.75,24.75,24.75,24.75,24.75,24.75,24.75,24.75, 24.74,24.73,24.72,24.71,24.7,24.68,24.66,24.64,24.62,24.61, 24.6,24.6],
];
const T_H22 = [
  [25.0, 24.95,24.92,24.9,24.9,24.9,24.9,24.9,24.9,24.9,24.9, 24.9,24.9,24.9,24.9,24.9,24.9,24.9,24.9,24.9,24.9, 24.9,24.9,24.9,24.9,24.9,24.9,24.9],
  [24.9, 24.92,24.92,24.92,24.92,24.92,24.92,24.92,24.92,24.92,24.92, 24.92,24.92,24.92,24.92,24.92,24.92,24.92,24.92,24.92,24.92, 24.92,24.92,24.92,24.92,24.92,24.92,24.92],
  [25.4, 25.0,24.94,24.93,24.93,24.93,24.93,24.93,24.93,24.93,24.93, 24.93,24.93,24.93,24.93,24.93,24.93,24.93,24.93,24.93,24.93, 24.93,24.93,24.93,24.93,24.93,24.93,24.93,24.93],
  [25.7, 25.05,24.95,24.94,24.94,24.94,24.94,24.94,24.94,24.94,24.94, 24.94,24.94,24.94,24.94,24.94,24.94,24.94,24.94,24.94,24.94, 24.94,24.94,24.94,24.94,24.94,24.94,24.94],
  [26.0, 25.1,24.96,24.95,24.95,24.95,24.95,24.95,24.95,24.95,24.95, 24.95,24.95,24.95,24.95,24.95,24.95,24.95,24.95,24.95,24.95, 24.95,24.95,24.95,24.95,24.95,24.95,24.95],
  [26.2, 25.1,24.95,24.93,24.93,24.93,24.93,24.93,24.93,24.93,24.93, 24.93,24.93,24.93,24.93,24.93,24.93,24.93,24.93,24.93,24.93, 24.93,24.93,24.93,24.93,24.93,24.93,24.93],
  [26.6, 24.95,24.84,24.82,24.82,24.82,24.82,24.82,24.82,24.82,24.82, 24.82,24.82,24.82,24.82,24.82,24.82,24.82,24.82,24.82,24.82, 24.82,24.82,24.82,24.82,24.82,24.82,24.82],
  [26.3, 25.0,24.85,24.83,24.83,24.83,24.83,24.83,24.83,24.83,24.83, 24.83,24.83,24.83,24.83,24.83,24.83,24.83,24.83,24.83,24.83, 24.83,24.83,24.83,24.83,24.83,24.83,24.83],
  [25.9, 25.05,24.93,24.91,24.91,24.91,24.91,24.91,24.91,24.91,24.91, 24.91,24.91,24.91,24.91,24.91,24.91,24.91,24.91,24.91,24.91, 24.91,24.91,24.91,24.91,24.91,24.91,24.91],
  [26.76, 24.9,24.84,24.82,24.82,24.82,24.82,24.82,24.82,24.82,24.82, 24.82,24.82,24.82,24.82,24.82,24.82,24.82,24.82,24.82,24.82, 24.82,24.82,24.82,24.82,24.82,24.82,24.82],
  [26.4, 25.1,24.96,24.94,24.94,24.94,24.94,24.94,24.94,24.94,24.94, 24.94,24.94,24.94,24.94,24.94,24.94,24.94,24.94,24.94,24.94, 24.94,24.94,24.94,24.94,24.94,24.94,24.94],
  [26.58, 25.2,24.97,24.95,24.95,24.95,24.95,24.95,24.95,24.95,24.95, 24.95,24.95,24.95,24.95,24.95,24.95,24.95,24.95,24.95,24.95, 24.95,24.95,24.95,24.95,24.95,24.95,24.95,24.95],
];
const T_H23 = [
  [24.6, 24.66,24.67,24.67,24.67,24.67,24.67,24.67,24.67,24.67,24.67, 24.67,24.67,24.67,24.67,24.67,24.67,24.67,24.67,24.67,24.67, 24.67,24.67,24.67,24.67,24.67,24.67,24.67],
  [24.4, 24.62,24.66,24.66,24.66,24.66,24.66,24.66,24.66,24.66,24.66, 24.66,24.66,24.66,24.66,24.66,24.66,24.66,24.66,24.66,24.66, 24.66,24.66,24.66,24.66,24.66,24.66,24.66],
  [24.3, 24.6,24.66,24.67,24.67,24.67,24.67,24.67,24.67,24.67,24.67, 24.67,24.67,24.67,24.67,24.67,24.67,24.67,24.67,24.67,24.67, 24.67,24.67,24.67,24.67,24.67,24.67,24.67],
  [25.6, 24.9,24.82,24.8,24.8,24.8,24.8,24.8,24.8,24.8,24.8, 24.8,24.8,24.8,24.8,24.8,24.8,24.8,24.8,24.8,24.8, 24.8,24.8,24.8,24.8,24.8,24.8,24.8],
  [24.35, 24.6,24.67,24.68,24.68,24.68,24.68,24.68,24.68,24.68,24.68, 24.68,24.68,24.68,24.68,24.68,24.68,24.68,24.68,24.68,24.68, 24.68,24.68,24.68,24.68,24.68,24.68,24.68],
  [24.8, 24.7,24.68,24.68,24.68,24.68,24.68,24.68,24.68,24.68,24.68, 24.68,24.68,24.68,24.68,24.68,24.68,24.68,24.68,24.68,24.68, 24.68,24.68,24.68,24.68,24.68,24.68,24.68],
  [25.3, 24.8,24.7,24.69,24.69,24.69,24.69,24.69,24.69,24.69,24.69, 24.69,24.69,24.69,24.69,24.69,24.69,24.69,24.69,24.69,24.69, 24.69,24.69,24.69,24.69,24.69,24.69,24.69],
  [25.0, 24.75,24.69,24.68,24.68,24.68,24.68,24.68,24.68,24.68,24.68, 24.68,24.68,24.68,24.68,24.68,24.68,24.68,24.68,24.68,24.68, 24.68,24.68,24.68,24.68,24.68,24.68,24.68],
  [24.7, 24.78,24.8,24.8,24.8,24.8,24.8,24.8,24.8,24.8,24.8, 24.8,24.8,24.8,24.8,24.8,24.8,24.8,24.8,24.8,24.8, 24.8,24.8,24.8,24.8,24.8,24.8,24.8],
  [24.6, 24.66,24.68,24.68,24.68,24.68,24.68,24.68,24.68,24.68,24.68, 24.68,24.68,24.68,24.68,24.68,24.68,24.68,24.68,24.68,24.68, 24.68,24.68,24.68,24.68,24.68,24.68,24.68],
  [24.5, 24.64,24.67,24.67,24.67,24.67,24.67,24.67,24.67,24.67,24.67, 24.67,24.67,24.67,24.67,24.67,24.67,24.67,24.67,24.67,24.67, 24.67,24.67,24.67,24.67,24.67,24.67,24.67],
  [23.8, 24.55,24.66,24.67,24.67,24.67,24.67,24.67,24.67,24.67,24.67, 24.67,24.67,24.67,24.67,24.67,24.67,24.67,24.67,24.67,24.67, 24.67,24.67,24.67,24.67,24.67,24.67,24.67],
];
const T_H24 = [
  [24.5, 24.72,24.76,24.76,24.76,24.76,24.76,24.76,24.76,24.76,24.76, 24.76,24.76,24.76,24.76,24.76,24.76,24.76,24.76,24.76,24.76, 24.76,24.76,24.76,24.76,24.76,24.76],
  [24.4, 24.7,24.78,24.78,24.78,24.78,24.78,24.78,24.78,24.78,24.78, 24.78,24.78,24.78,24.78,24.78,24.78,24.78,24.78,24.78,24.78, 24.78,24.78,24.78,24.78,24.78,24.78],
  [24.6, 24.75,24.8,24.8,24.8,24.8,24.8,24.8,24.8,24.8,24.8, 24.8,24.8,24.8,24.8,24.8,24.8,24.8,24.8,24.8,24.8, 24.8,24.8,24.8,24.8,24.8,24.8],
  [24.9, 24.82,24.82,24.82,24.82,24.82,24.82,24.82,24.82,24.82,24.82, 24.82,24.82,24.82,24.82,24.82,24.82,24.82,24.82,24.82,24.82, 24.82,24.82,24.82,24.82,24.82,24.82],
  [24.5, 24.75,24.84,24.84,24.84,24.84,24.84,24.84,24.84,24.84,24.84, 24.84,24.84,24.84,24.84,24.84,24.84,24.84,24.84,24.84,24.84, 24.84,24.84,24.84,24.84,24.84,24.84],
  [24.7, 24.8,24.85,24.85,24.85,24.85,24.85,24.85,24.85,24.85,24.85, 24.85,24.85,24.85,24.85,24.85,24.85,24.85,24.85,24.85,24.85, 24.85,24.85,24.85,24.85,24.85,24.85],
  [25.0, 24.85,24.86,24.86,24.86,24.86,24.86,24.86,24.86,24.86,24.86, 24.86,24.86,24.86,24.86,24.86,24.86,24.86,24.86,24.86,24.86, 24.86,24.86,24.86,24.86,24.86,24.86,24.86],
  [25.5, 24.95,24.87,24.87,24.87,24.87,24.87,24.87,24.87,24.87,24.87, 24.87,24.87,24.87,24.87,24.87,24.87,24.87,24.87,24.87,24.87, 24.87,24.87,24.87,24.87,24.87,24.87],
  [25.2, 24.9,24.88,24.88,24.88,24.88,24.88,24.88,24.88,24.88,24.88, 24.88,24.88,24.88,24.88,24.88,24.88,24.88,24.88,24.88,24.88, 24.88,24.88,24.88,24.88,24.88,24.88],
];
const T_CYAN = [
  [24.64, 24.6,24.57,24.57,24.57,24.57,24.57,24.57,24.57,24.57,24.57, 24.57,24.57,24.57,24.57,24.57,24.57,24.57,24.57,24.57,24.57, 24.57,24.57,24.57,24.57,24.57,24.57],
  [25.1, 24.65,24.58,24.57,24.57,24.57,24.57,24.57,24.57,24.57,24.57, 24.57,24.57,24.57,24.57,24.57,24.57,24.57,24.57,24.57,24.57, 24.57,24.57,24.57,24.57,24.57],
];

// ---------- styles ----------
const LIME = "#00FF00", GRAY = "#C0C0C0", BLK = "#000000", BLUE = "#0000FF", DGRN = "#008000";
const BRN = "#993300", BRN2 = "#B4572A", BRN3 = "#A0522D", MAG = "#FF00FF", YEL = "#FFC000";
const DRED = "#800000", RED = "#FF0000", CYAN = "#00FFFF";

const LINE_COLORS = [
  LIME, LIME,
  GRAY, GRAY, GRAY, GRAY, GRAY, GRAY, GRAY, GRAY, GRAY, GRAY,
  BLK, BLK, BLK, BLK, BLK, BLK, BLK, BLK, BLK, BLK, BLK,
  BLUE, BLUE, BLUE, BLUE, BLUE, BLUE, BLUE, BLUE, BLUE,
  DGRN, DGRN, DGRN, DGRN, DGRN, DGRN, DGRN, DGRN, DGRN, DGRN, DGRN, DGRN,
  BRN, BRN, BRN2, MAG, MAG, MAG, MAG, MAG, YEL, BRN, BRN3, BRN,
  YEL, YEL, YEL, YEL, YEL, YEL, DRED, DRED, YEL, DRED, YEL, YEL,
  MAG, MAG, MAG, RED, MAG, MAG, MAG, MAG, RED, MAG, MAG, MAG,
  RED, RED, RED, RED, RED, RED, RED, RED, RED,
  CYAN, CYAN,
];
const MARKER_COLORS = LINE_COLORS.map((c, i) => (i === 10 || i === 11 ? BLK : c));
const MARKERS = [
  "rectRot", "line",
  "circle", "rect", "triangle", "crossRot", "cross", "line", "rectRot", "line", "circle", "rectRot",
  "circle", "rect", "triangle", "crossRot", "star", "cross", "rect", "rectRot", "line", "rect", "circle",
  "circle", "rect", "triangle", "rectRot", "crossRot", "star", "cross", "line", "circle",
  "circle", "star", "triangle", "line", "rectRot", "rect", "triangle", "crossRot", "star", "circle", "cross", "line",
  "line", "rectRot", "rect", "triangle", "crossRot", "star", "circle", "cross", "line", "rect", "circle", "rect",
  "circle", "rectRot", "rect", "triangle", "crossRot", "star", "circle", "cross", "line", "triangle", "rectRot", "rect",
  "circle", "rectRot", "rect", "triangle", "crossRot", "star", "circle", "cross", "line", "triangle", "rectRot", "rect",
  "circle", "rectRot", "rect", "triangle", "crossRot", "star", "circle", "cross", "line",
  "circle", "rect",
];
const FILLED = [
  0, 0,
  0, 0, 0, 0, 0, 0, 0, 0, 1, 1,
  0, 0, 0, 0, 0, 0, 0, 0, 0, 1, 1,
  0, 0, 0, 0, 0, 0, 0, 0, 0,
  0, 0, 0, 0, 0, 0, 1, 0, 0, 0, 0, 0,
  0, 0, 0, 0, 0, 0, 0, 0, 0, 0, 1, 1,
  0, 0, 0, 0, 0, 0, 1, 0, 0, 1, 1, 1,
  0, 0, 0, 0, 0, 0, 1, 0, 0, 1, 1, 1,
  0, 0, 0, 1, 0, 0, 1, 0, 0,
  0, 0,
];
const RADII = [
  3, 3,
  3, 3, 3, 3, 3, 3, 3, 3, 3, 2.5,
  3, 3, 3, 3, 3, 4, 4, 3, 3, 4, 4,
  3, 3, 3, 3, 3, 3, 3, 3, 3,
  3, 3, 3, 3, 3, 4, 4.5, 4, 4, 4, 4, 3,
  3, 3.5, 3, 4.5, 4.5, 4.5, 4.5, 4.5, 3, 3, 3.5, 4.5,
  3.5, 3.5, 3.5, 3.5, 4, 4, 4.5, 4.5, 3, 5, 5, 5,
  4.5, 3.5, 3.5, 4.5, 4, 4, 4.5, 4.5, 3, 4.5, 4.5, 5,
  4.5, 3.5, 3.5, 4.5, 4, 4, 5, 4.5, 3,
  6, 6,
];
const LINE_WIDTHS = LINE_COLORS.map((_, i) => (i === 55 ? 3 : 2));

const EC_ALL = [...EC_H16, ...EC_H17, ...EC_H18, ...EC_H19, ...EC_H20, ...EC_H21, ...EC_H22, ...EC_H23, ...EC_H24, ...EC_CYAN];
const T_ALL = [...T_H16, ...T_H17, ...T_H18, ...T_H19, ...T_H20, ...T_H21, ...T_H22, ...T_H23, ...T_H24, ...T_CYAN];

const LEGEND_COUNT = 89;
const TICK_FONT = '"Liberation Sans", Arial, sans-serif';
const LEGEND_FONT = '15px "Liberation Sans", "Noto Sans CJK JP", sans-serif';
const JP_FONT = '"Noto Sans CJK JP", "Noto Sans", sans-serif';

function buildDatasets(valueSets: number[][], xMin: number, xMax: number) {
  const n = valueSets.length;
  const ds: any[] = valueSets.map((vals, i) => {
    const pc = MARKER_COLORS[i];
    return {
      label: LABELS[i],
      data: vals.map((v, j) => ({ x: v, y: j === 0 ? HEAD_EL[i] : LEVELS[j - 1] })),
      showLine: true,
      borderColor: LINE_COLORS[i],
      backgroundColor: LINE_COLORS[i],
      borderWidth: LINE_WIDTHS[i],
      pointStyle: MARKERS[i],
      pointRadius: RADII[i],
      pointBorderColor: pc,
      pointBackgroundColor: FILLED[i] ? pc : "rgba(255,255,255,0)",
      pointBorderWidth: MARKERS[i] === "line" ? 3 : i >= 89 ? 2.5 : 1.75,
      order: n - i + 1,
      tension: 0,
    };
  });
  ds.push({
    label: "_water",
    data: [{ x: xMin, y: WATER_LINE_EL }, { x: xMax, y: WATER_LINE_EL }],
    showLine: true,
    borderColor: "#A6A6A6",
    borderWidth: 1,
    pointRadius: 0,
    order: n + 10,
  });
  return ds;
}

const framePlugin = {
  id: "frame",
  afterDraw(chart: any) {
    const { ctx, chartArea } = chart;
    ctx.save();
    ctx.strokeStyle = "#000";
    ctx.lineWidth = 2;
    ctx.setLineDash([]);
    ctx.strokeRect(chartArea.left, chartArea.top, chartArea.right - chartArea.left, chartArea.bottom - chartArea.top);
    ctx.restore();
  },
};

const legendPlugin = {
  id: "boxLegend",
  afterDraw(chart: any) {
    const { ctx, chartArea } = chart;
    const x0 = chartArea.left + 20;
    const y0 = chartArea.top + 3;
    const w = 133;
    const h = 1371;
    ctx.save();
    ctx.fillStyle = "#fff";
    ctx.fillRect(x0, y0, w, h);
    ctx.strokeStyle = "#000";
    ctx.lineWidth = 1.5;
    ctx.setLineDash([]);
    ctx.strokeRect(x0, y0, w, h);
    ctx.beginPath();
    ctx.rect(x0, y0, w, h);
    ctx.clip();
    ctx.font = LEGEND_FONT;
    ctx.textBaseline = "middle";
    ctx.textAlign = "left";
    for (let i = 0; i < LEGEND_COUNT; i++) {
      const y = y0 + 7 + i * 15.43;
      if (y > y0 + h - 3) break;
      ctx.strokeStyle = LINE_COLORS[i];
      ctx.lineWidth = 2;
      ctx.beginPath();
      ctx.moveTo(x0 + 9, y);
      ctx.lineTo(x0 + 52, y);
      ctx.stroke();
      const pc = MARKER_COLORS[i];
      ctx.strokeStyle = pc;
      ctx.fillStyle = FILLED[i] ? pc : "rgba(255,255,255,0)";
      ctx.lineWidth = MARKERS[i] === "line" ? 3 : 1.5;
      drawPoint(ctx, { pointStyle: MARKERS[i], radius: RADII[i], borderWidth: ctx.lineWidth, rotation: 0 } as any, x0 + 30, y);
      ctx.fillStyle = "#222";
      ctx.fillText(LABELS[i], x0 + 55, y + 1);
    }
    ctx.restore();
  },
};

function elLabel(v: number) {
  return (v < 0 ? "\u2212" : "") + Math.abs(v).toFixed(1);
}

function makeConfig(kind: "ec" | "t") {
  const isEc = kind === "ec";
  const xMin = isEc ? 0 : 19;
  const xMax = isEc ? 50000 : 28;
  const xTicks = isEc ? EC_TICKS : T_TICKS;
  return {
    type: "scatter",
    data: { datasets: buildDatasets(isEc ? EC_ALL : T_ALL, xMin, xMax) },
    options: {
      animation: false,
      responsive: false,
      maintainAspectRatio: false,
      events: [],
      layout: { padding: { left: 0, top: 0, right: 39, bottom: isEc ? 56 : 60 } },
      plugins: { legend: { display: false }, tooltip: { enabled: false } },
      scales: {
        x: {
          type: "linear",
          position: "top",
          min: xMin,
          max: xMax,
          afterFit: (s: any) => { s.height = isEc ? 75 : 76; },
          afterBuildTicks: (s: any) => { s.ticks = xTicks.map((v) => ({ value: v })); },
          ticks: {
            autoSkip: false,
            maxRotation: 0,
            padding: 10,
            color: "#111",
            font: { family: TICK_FONT, size: 15 },
            callback: (v: any) => (isEc ? Number(v).toLocaleString("en-US") : Number(v).toFixed(1)),
          },
          grid: { color: "#000", lineWidth: 1.5, drawTicks: false },
          border: { display: false, dash: [5, 3] },
        },
        y: {
          type: "linear",
          min: -37,
          max: 3,
          afterFit: (s: any) => { s.width = 92; },
          afterBuildTicks: (s: any) => { s.ticks = EL_TICKS.map((v) => ({ value: v })); },
          ticks: {
            autoSkip: false,
            padding: isEc ? 23 : 22,
            color: "#111",
            font: { family: TICK_FONT, size: 16 },
            callback: (v: any) => elLabel(Number(v)),
          },
          grid: { color: "#000", lineWidth: 1.5, drawTicks: false },
          border: { display: false, dash: [5, 3] },
        },
      },
    },
    plugins: isEc ? [framePlugin] : [framePlugin, legendPlugin],
  } as any;
}

function ChartCanvas({ kind, left, top, width, height }: any) {
  const ref = useRef<HTMLCanvasElement | null>(null);
  useEffect(() => {
    if (!ref.current) return;
    const chart = new Chart(ref.current, makeConfig(kind));
    return () => chart.destroy();
  }, [kind]);
  return (
    <canvas
      ref={ref}
      width={width}
      height={height}
      style={{ position: "absolute", left, top, width, height, display: "block" }}
    />
  );
}

function Ln({ x, y, w, h, c = "#000" }: any) {
  return <div style={{ position: "absolute", left: x, top: y, width: w, height: h, background: c }} />;
}

function Txt({ x, y, size, children, align = "center", spacing = 0, family = JP_FONT, weight = 400 }: any) {
  const lh = Math.round(size * 1.4);
  const style: any = {
    position: "absolute",
    top: y - lh / 2,
    height: lh,
    lineHeight: `${lh}px`,
    fontSize: size,
    fontFamily: family,
    fontWeight: weight,
    letterSpacing: spacing,
    whiteSpace: "nowrap",
    color: "#111",
  };
  if (align === "center") {
    style.left = x - 400;
    style.width = 800;
    style.textAlign = "center";
  } else {
    style.left = x;
  }
  return <div style={style}>{children}</div>;
}

export default function App() {
  return (
    <div style={{ position: "absolute", left: 0, top: 0, width: 1107, height: 1671, background: "#fff", overflow: "hidden" }}>
      <ChartCanvas kind="ec" left={9} top={211} width={550} height={1460} />
      <ChartCanvas kind="t" left={562} top={211} width={542} height={1460} />

      {/* frame lines */}
      <Ln x={8} y={9} w={1098} h={2} />
      <Ln x={8} y={9} w={2} h={1662} />
      <Ln x={1104} y={9} w={2} h={1662} />
      <Ln x={8} y={86} w={1098} h={2} />
      <Ln x={8} y={126} w={1098} h={2} />
      <Ln x={8} y={166} w={1098} h={2} />
      <Ln x={8} y={205} w={1098} h={2} />
      <Ln x={8} y={210} w={1098} h={1} c="#9a9a9a" />
      <Ln x={167} y={86} w={2} h={121} />
      <Ln x={559} y={126} w={2} h={81} />
      <Ln x={744} y={126} w={2} h={81} />
      <Ln x={560} y={211} w={1.5} h={1460} c="#555" />

      {/* title */}
      <div style={{ position: "absolute", left: 0, width: 1172, top: 22, height: 52, lineHeight: "52px", textAlign: "center", fontFamily: JP_FONT, fontSize: 37, fontWeight: 500, color: "#111", whiteSpace: "nowrap" }}>
        <span style={{ letterSpacing: 25 }}>電導度測定記</span>
        <span style={{ letterSpacing: 3 }}>録(測定結果)</span>
      </div>

      {/* header rows */}
      <Txt x={28} y={113} size={18} align="left" spacing={16} weight={500}>調査件名</Txt>
      <Txt x={28} y={153} size={18} align="left" spacing={16} weight={500}>調査位置</Txt>
      <Txt x={28} y={193} size={18} align="left" spacing={16} weight={500}>調査地点</Txt>
      <Txt x={641} y={113} size={21} spacing={3} weight={500}>H24新石垣空港モニタリング調査委託業務(その2)</Txt>
      <Txt x={365} y={153} size={21} spacing={1} weight={500}>石垣市</Txt>
      <Txt x={366} y={193} size={21} family={TICK_FONT}>14B-3</Txt>
      <Txt x={661} y={154} size={17} spacing={15} weight={500}>孔口標高</Txt>
      <Txt x={654} y={193} size={17} spacing={1.5} weight={500}>塩ビ管立上り</Txt>
      <Txt x={930} y={153} size={20} family={TICK_FONT}>EL+4.50m</Txt>
      <Txt x={930} y={193} size={20} family={TICK_FONT}>GL+0.66m</Txt>

      {/* chart titles */}
      <Txt x={341} y={236} size={19} weight={500}>
        <span style={{ letterSpacing: 11 }}>電導度</span>
        <span>(μ S/cm)</span>
      </Txt>
      <Txt x={875} y={235} size={19} weight={500}>水　　温 (℃)</Txt>

      {/* vertical axis titles */}
      <Txt x={32} y={839} size={18}>標</Txt>
      <Txt x={32} y={867} size={18}>高</Txt>
      <Txt x={30} y={895} size={17} family={TICK_FONT}>EL</Txt>
      <Txt x={30} y={922} size={17} family={TICK_FONT}>(m)</Txt>
      <Txt x={582} y={861} size={18}>標</Txt>
      <Txt x={582} y={889} size={18}>高</Txt>
      <Txt x={582} y={916} size={17} family={TICK_FONT}>EL</Txt>
      <Txt x={584} y={944} size={17} family={TICK_FONT}>(m)</Txt>

      {/* captions */}
      <Txt x={327} y={1645} size={21} spacing={0.5}>標高ー電導度関係図</Txt>
      <Txt x={921} y={1643} size={21} spacing={0.5}>標高ー水温関係図</Txt>
    </div>
  );
}
